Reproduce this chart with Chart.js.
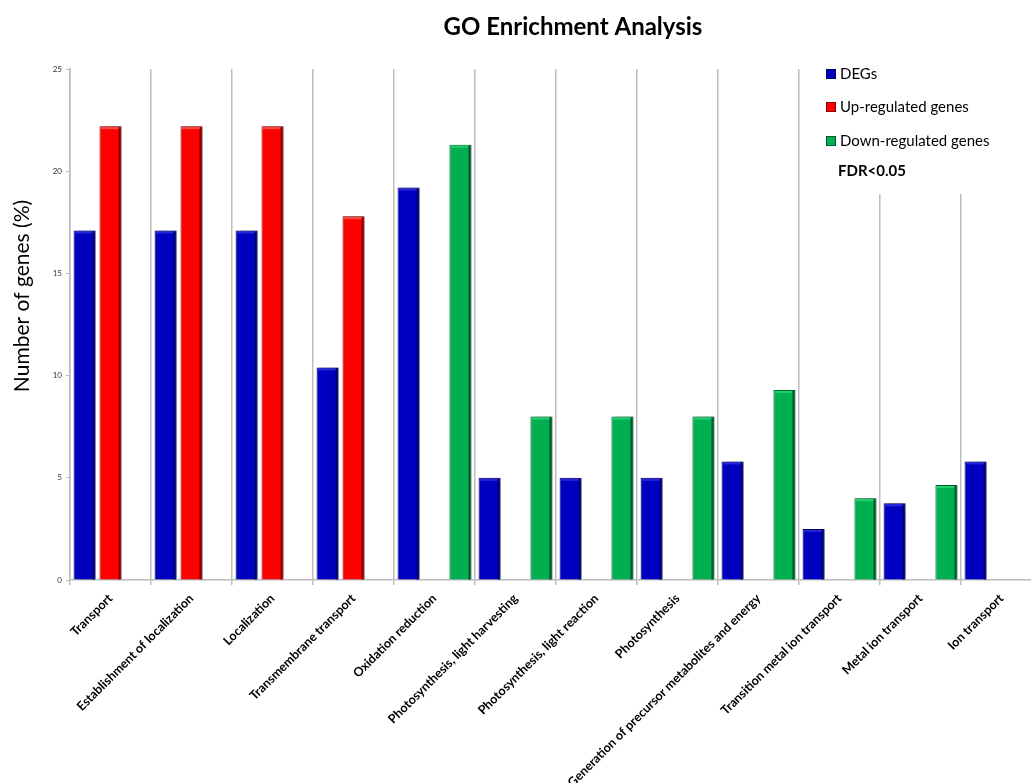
<!DOCTYPE html>
<html>
<head>
<meta charset="utf-8">
<title>GO Enrichment Analysis</title>
<script src="https://cdn.jsdelivr.net/npm/chart.js"></script>
<style>
    body { margin: 0; background: #fff; overflow: hidden; }
    #wrap { width: 1044px; height: 783px; }
</style>
</head>
<body>
<div id="wrap"><canvas id="myChart" width="1044" height="783"></canvas></div>
<script>
// Datos de la grafica
const categories = [
    "Transport",
    "Establishment of localization",
    "Localization",
    "Transmembrane transport",
    "Oxidation reduction",
    "Photosynthesis, light harvesting",
    "Photosynthesis, light reaction",
    "Photosynthesis",
    "Generation of precursor metabolites and energy",
    "Transition metal ion transport",
    "Metal ion transport",
    "Ion transport"
];
const degs = [17.1, 17.1, 17.1, 10.4, 19.2, 5.0, 5.0, 5.0, 5.8, 2.5, 3.75, 5.8];
const upRegulated = [22.2, 22.2, 22.2, 17.8, null, null, null, null, null, null, null, null];
const downRegulated = [null, null, null, null, 21.3, 8.0, 8.0, 8.0, 9.3, 4.0, 4.65, null];
const yTicks = [0, 5, 10, 15, 20, 25];

const seriesNames = ["DEGs", "Up-regulated genes", "Down-regulated genes"];
const fillColors = ["#0000C0", "#FF0000", "#00B050"];
const edgeColors = ["#00006A", "#8A0000", "#005A2A"];
const lightColors = ["#2626D8", "#FF4A4A", "#22D070"];

const FONT = "Lato, 'Liberation Sans', sans-serif";

// Sombra y brillo de las barras
const barEffects = {
    id: "barEffects",
    beforeDatasetsDraw(chart) {
        const c = chart.ctx;
        // caja blanca de la leyenda (tapa la reticula)
        c.save();
        c.fillStyle = "#fff";
        c.fillRect(812, 58, 240, 136);
        c.restore();
        c.save();
        c.shadowColor = "rgba(0,0,0,0.35)";
        c.shadowOffsetX = 3;
        c.shadowOffsetY = 0;
        c.shadowBlur = 3;
    },
    afterDatasetsDraw(chart) {
        const c = chart.ctx;
        c.restore();
        chart.data.datasets.forEach((ds, i) => {
            const meta = chart.getDatasetMeta(i);
            meta.data.forEach((bar, j) => {
                if (ds.data[j] == null) return;
                const left = bar.x - bar.width / 2;
                const h = bar.base - bar.y;
                // brillo arriba
                c.fillStyle = lightColors[i];
                c.fillRect(left + 1, bar.y + 1, bar.width - 3, 2);
                // borde oscuro derecho
                c.fillStyle = edgeColors[i];
                c.fillRect(left + bar.width - 3, bar.y + 1, 2, h - 1);
            });
        });
    },
    afterDraw(chart) {
        const c = chart.ctx;
        c.save();
        // Titulo
        c.fillStyle = "#000";
        c.font = "bold 24px " + FONT;
        c.textAlign = "center";
        c.textBaseline = "middle";
        c.fillText("GO Enrichment Analysis", 573, 27);

        // Titulo eje Y
        c.save();
        c.translate(22, 296);
        c.rotate(-Math.PI / 2);
        c.font = "21px " + FONT;
        c.fillText("Number of genes (%)", 0, 0);
        c.restore();

        // Leyenda
        const rows = [74, 107, 141];
        c.textAlign = "left";
        c.font = "15px " + FONT;
        seriesNames.forEach((name, i) => {
            c.fillStyle = fillColors[i];
            c.fillRect(826, rows[i] - 5, 10, 10);
            c.strokeStyle = edgeColors[i];
            c.lineWidth = 1;
            c.strokeRect(826.5, rows[i] - 4.5, 9, 9);
            c.fillStyle = "#000";
            c.fillText(name, 840, rows[i]);
        });
        c.font = "bold 15px " + FONT;
        c.fillText("FDR<0.05", 838, 171);
        c.restore();
    }
};

const ctx = document.getElementById("myChart");

new Chart(ctx, {
    type: "bar",
    data: {
        labels: categories,
        datasets: [degs, upRegulated, downRegulated].map((serie, i) => ({
            label: seriesNames[i],
            data: serie,
            backgroundColor: fillColors[i],
            borderColor: edgeColors[i],
            borderWidth: 1,
            categoryPercentage: 0.96,
            barPercentage: 0.85
        }))
    },
    options: {
        responsive: false,
        animation: false,
        devicePixelRatio: 1,
        layout: { padding: { top: 69, right: 2, bottom: 0, left: 0 } },
        plugins: {
            legend: { display: false },
            title: { display: false },
            tooltip: { enabled: false }
        },
        scales: {
            x: {
                afterFit: (scale) => { scale.height = 203; },
                border: { color: "#BDBDBD", width: 1.5 },
                grid: { color: "#BDBDBD", lineWidth: 1.5, offset: true, tickLength: 5 },
                ticks: {
                    minRotation: 45,
                    maxRotation: 45,
                    autoSkip: false,
                    color: "#000",
                    font: { family: FONT, size: 12.5, weight: "bold" },
                    padding: 6
                }
            },
            y: {
                min: 0,
                max: 25,
                afterFit: (scale) => { scale.width = 70; },
                afterBuildTicks: (scale) => { scale.ticks = yTicks.map(v => ({ value: v })); },
                border: { color: "#BDBDBD", width: 1.5 },
                grid: { drawOnChartArea: false, color: "#BDBDBD", tickLength: 4 },
                ticks: {
                    color: "#333",
                    font: { family: FONT, size: 8 },
                    padding: 4
                }
            }
        }
    },
    plugins: [barEffects]
});
</script>
</body>
</html>
